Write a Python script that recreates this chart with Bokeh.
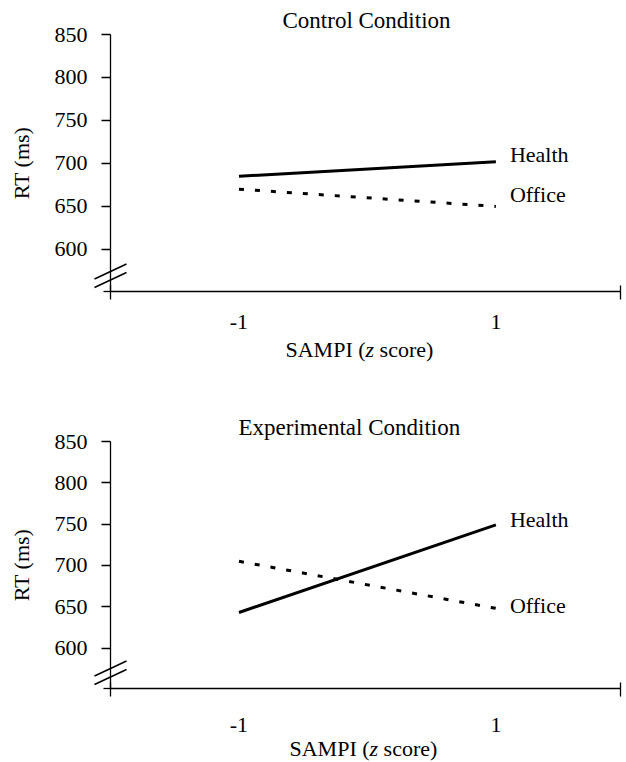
from bokeh.plotting import figure
from bokeh.layouts import column
from bokeh.models import Range1d, FixedTicker
from bokeh.core.properties import value
from bokeh.embed import file_html
from bokeh.resources import INLINE

# ---- data ----
sampi = [-1, 1]
control_health = [685, 702]
control_office = [670, 650]
exp_health = [643, 749]
exp_office = [705, 648]
y_ticks = [600, 650, 700, 750, 800, 850]
x_ticks = [-1, 1]
x_tick_labels = {-1: "-1", 1: "1"}
series_names = ["Health", "Office"]
titles = ["Control Condition", "Experimental Condition"]
y_label = "RT (ms)"
x_label_parts = ["SAMPI (", "z", "score)"]

X_MIN, X_MAX = -2.0, 1.97
Y_MIN, Y_MAX = 551, 850
FONT = "Liberation Serif"
FS = "22px"
W = 624
B_LEFT, B_RIGHT = 110, 4


def make(title, health, office, height, b_top, b_bottom, title_left_px,
         tick_standoff, xlabel_left_px, xlabel_base_px, name_offsets):
    frame_w = W - B_LEFT - B_RIGHT
    frame_h = height - b_top - b_bottom
    xpu = frame_w / (X_MAX - X_MIN)
    ypu = frame_h / (Y_MAX - Y_MIN)

    p = figure(width=W, height=height,
               x_range=Range1d(X_MIN, X_MAX), y_range=Range1d(Y_MIN, Y_MAX),
               output_backend="svg", toolbar_location=None,
               min_border_left=B_LEFT, min_border_right=B_RIGHT,
               min_border_top=b_top, min_border_bottom=b_bottom)
    p.outline_line_color = None
    p.grid.visible = False
    p.background_fill_color = "white"
    p.border_fill_color = "white"

    # title
    p.title.text = title
    p.title.text_font = FONT
    p.title.text_font_size = "23px"
    p.title.text_font_style = "normal"
    p.title.text_color = "black"
    p.title.align = "left"
    p.title.offset = title_left_px - B_LEFT
    p.title.standoff = 3

    # y axis
    ya = p.yaxis[0]
    ya.ticker = FixedTicker(ticks=y_ticks, minor_ticks=[Y_MIN])
    ya.major_tick_out = 9
    ya.major_tick_in = 0
    ya.minor_tick_out = 7
    ya.minor_tick_in = 0
    ya.major_label_standoff = 14
    ya.major_label_text_font = FONT
    ya.major_label_text_font_size = FS
    ya.major_label_text_color = "black"
    ya.axis_label = y_label
    ya.axis_label_text_font = FONT
    ya.axis_label_text_font_size = FS
    ya.axis_label_text_font_style = "normal"
    ya.axis_label_text_color = "black"
    ya.axis_label_standoff = 18
    ya.axis_line_width = 1.3
    ya.major_tick_line_width = 1.3
    ya.minor_tick_line_width = 1.3

    # x axis
    xa = p.xaxis[0]
    xa.ticker = FixedTicker(ticks=x_ticks, minor_ticks=[X_MIN, X_MAX])
    xa.major_label_overrides = x_tick_labels
    xa.major_tick_out = 0
    xa.major_tick_in = 0
    xa.minor_tick_out = 8
    xa.minor_tick_in = 6
    xa.major_label_standoff = tick_standoff
    xa.major_label_text_font = FONT
    xa.major_label_text_font_size = FS
    xa.major_label_text_color = "black"
    xa.axis_line_width = 1.3
    xa.minor_tick_line_width = 1.3

    # series
    p.line(sampi, health, line_color="black", line_width=3)
    p.line(sampi, office, line_color="black", line_width=3, line_dash="5 11")
    p.text(x=[sampi[-1], sampi[-1]], y=[health[-1], office[-1]], text=series_names,
           x_offset=14, y_offset=name_offsets, text_font=value(FONT), text_font_size=FS,
           text_baseline="alphabetic", text_align="left", text_color="black")

    # x axis label (italic z), drawn as text glyphs outside the frame
    x0 = X_MIN + (xlabel_left_px - B_LEFT) / xpu
    yb = Y_MIN - xlabel_base_px / ypu
    offs = [0, 80.06, 80.06 + 8.56 + 5.5]
    styles = ["normal", "italic", "normal"]
    for txt, off, st in zip(x_label_parts, offs, styles):
        p.text(x=[x0 + off / xpu], y=[yb], text=[txt], text_font=value(FONT),
               text_font_size=FS, text_font_style=st, text_align="left",
               text_baseline="alphabetic", text_color="black", level="overlay")

    # axis break marks
    xs0, ys0, xs1, ys1 = [], [], [], []
    for cy_px in (20, 11.5):
        cy = Y_MIN + cy_px / ypu
        xs0.append(X_MIN - 16 / xpu)
        ys0.append(cy - 7.5 / ypu)
        xs1.append(X_MIN + 16 / xpu)
        ys1.append(cy + 7.5 / ypu)
    p.segment(xs0, ys0, xs1, ys1, line_color="black", line_width=1.5, level="overlay")
    return p


p1 = make(titles[0], control_health, control_office, height=405, b_top=34, b_bottom=114,
          title_left_px=282, tick_standoff=15, xlabel_left_px=285, xlabel_base_px=58,
          name_offsets=[-7, -12])
p2 = make(titles[1], exp_health, exp_office, height=357, b_top=36, b_bottom=74,
          title_left_px=238, tick_standoff=21, xlabel_left_px=289, xlabel_base_px=60,
          name_offsets=[-5, -3])

layout = column(p1, p2, spacing=0)
open("out.html", "w").write(file_html(layout, INLINE))
